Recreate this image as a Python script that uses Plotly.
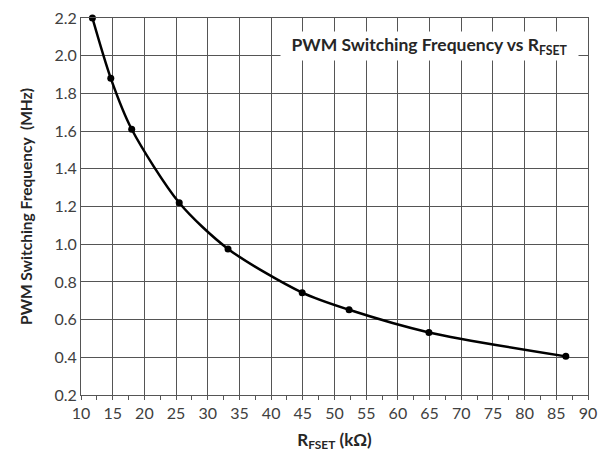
import plotly.graph_objects as go

r_fset = [11.8, 14.7, 18.0, 25.5, 33.2, 44.9, 52.3, 64.9, 86.5]
freq_mhz = [2.2, 1.88, 1.61, 1.22, 0.975, 0.743, 0.652, 0.532, 0.405]

x_ticks = list(range(10, 95, 5))
y_ticks = [0.2, 0.4, 0.6, 0.8, 1.0, 1.2, 1.4, 1.6, 1.8, 2.0, 2.2]

FONT = "Lato"
GRID = "#555555"

fig = go.Figure()
fig.add_trace(go.Scatter(
    x=r_fset, y=freq_mhz, mode="lines+markers",
    line=dict(color="black", width=2.5, shape="spline", smoothing=0.8),
    marker=dict(color="black", size=7),
    showlegend=False, cliponaxis=False,
))

fig.update_layout(
    width=600, height=448,
    margin=dict(l=73, r=20, t=10, b=61, autoexpand=False),
    paper_bgcolor="white", plot_bgcolor="white",
    font=dict(family=FONT, color="#404040", size=16),
    xaxis=dict(
        range=[10, 90], tickvals=x_ticks, ticktext=[str(v) for v in x_ticks],
        showgrid=True, gridcolor=GRID, gridwidth=1,
        showline=True, linecolor=GRID, linewidth=1, mirror=True,
        ticks="outside", ticklen=4, tickcolor=GRID,
        minor=dict(dtick=2.5, tick0=10, ticks="outside", ticklen=4, tickcolor=GRID, showgrid=False),
        zeroline=False, ticklabeloverflow="allow", automargin=False,
        title=dict(text="<b>R<sub>FSET</sub> (kΩ)</b>", font=dict(family=FONT, size=17, color="#262626"), standoff=12),
        tickfont=dict(size=16, color="#404040"),
    ),
    yaxis=dict(
        range=[0.2, 2.2], tickvals=y_ticks, ticktext=[f"{v:.1f}" for v in y_ticks],
        showgrid=True, gridcolor=GRID, gridwidth=1,
        showline=True, linecolor=GRID, linewidth=1, mirror=True,
        ticks="", zeroline=False, ticklabeloverflow="allow", automargin=False,
        title=dict(text="<b>PWM Switching Frequency  (MHz)</b>", font=dict(family=FONT, size=15.5, color="#262626"), standoff=18),
        tickfont=dict(size=16, color="#404040"),
    ),
    annotations=[dict(
        text="<b>PWM Switching Frequency vs R<sub>FSET</sub></b>",
        xref="paper", yref="paper", x=0.687, y=0.926, xanchor="center", yanchor="middle",
        showarrow=False, bgcolor="white", width=295, height=26,
        font=dict(family=FONT, size=17.5, color="#262626"),
    )],
)

fig.write_html("out.html")
